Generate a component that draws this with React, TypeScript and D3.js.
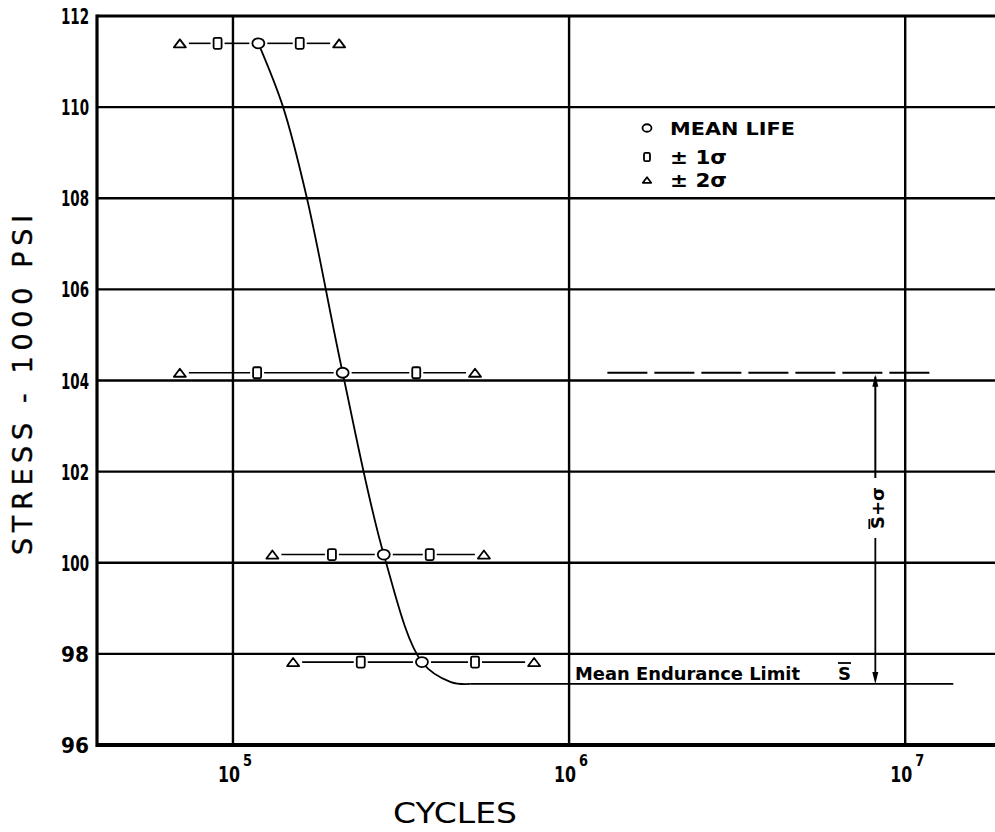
import React from "react";
import * as d3 from "d3";

// ---- data ----
const stressTicks = [96, 98, 100, 102, 104, 106, 108, 110, 112];
const cycleDecades = [5, 6, 7];
const stressLevels = [111.4, 104.17, 100.18, 97.82];
const minus2Sigma = [6.95e4, 6.95e4, 1.31e5, 1.51e5];
const minus1Sigma = [9.0e4, 1.18e5, 1.97e5, 2.4e5];
const meanLife = [1.19e5, 2.12e5, 2.81e5, 3.65e5];
const plus1Sigma = [1.58e5, 3.51e5, 3.85e5, 5.25e5];
const plus2Sigma = [2.07e5, 5.25e5, 5.58e5, 7.87e5];
const curveCycles = [1.19e5, 1.41e5, 1.66e5, 2.12e5, 2.81e5, 3.65e5, 4.45e5, 5.1e5];
const curveStress = [111.4, 110, 108, 104.17, 100.18, 97.82, 97.38, 97.34];
const enduranceLimit = 97.34;
const enduranceEnd = 1.39e7;
const enduranceSigma = 104.17;
const dashedRange = [1.3e6, 1.23e7];
const arrowCycles = 8.15e6;

const W = 995;
const H = 832;
const x = d3.scaleLog().domain([3.94e4, 1.85e7]).range([97, 995]);
const y = d3.scaleLinear().domain([96, 112]).range([745, 16]);

const boldFont = "'DejaVu Sans Condensed', 'Liberation Sans Narrow', 'DejaVu Sans', sans-serif";
const thinFont = "'DejaVu Sans', 'Liberation Sans', sans-serif";

type Kind = "tri" | "sq" | "circ";

function Marker({ kind, cx, cy, s = 1 }: { kind: Kind; cx: number; cy: number; s?: number }) {
  const sw = 1.8;
  if (kind === "circ")
    return <ellipse cx={cx} cy={cy} rx={6 * s} ry={5 * s} fill="#fff" stroke="#000" strokeWidth={sw} />;
  if (kind === "sq")
    return (
      <rect x={cx - 4 * s} y={cy - 5.5 * s} width={8 * s} height={11 * s} rx={1.5} fill="#fff" stroke="#000" strokeWidth={sw} />
    );
  const pts = [
    [cx - 6 * s, cy + 4 * s],
    [cx + 6 * s, cy + 4 * s],
    [cx, cy - 4 * s],
  ]
    .map((p) => p.join(","))
    .join(" ");
  return <polygon points={pts} fill="#fff" stroke="#000" strokeWidth={sw} strokeLinejoin="round" />;
}

const halfW: Record<Kind, number> = { tri: 6, sq: 4, circ: 6 };

export default function App() {
  const curveLine = d3
    .line<number>()
    .x((_, i) => x(curveCycles[i]))
    .y((d) => y(d))
    .curve(d3.curveCatmullRom.alpha(0.5));

  const rows = stressLevels.map((s, i) => {
    const pts: { kind: Kind; v: number }[] = [
      { kind: "tri", v: minus2Sigma[i] },
      { kind: "sq", v: minus1Sigma[i] },
      { kind: "circ", v: meanLife[i] },
      { kind: "sq", v: plus1Sigma[i] },
      { kind: "tri", v: plus2Sigma[i] },
    ];
    const cy = y(s);
    const segs = [];
    for (let k = 0; k < pts.length - 1; k++) {
      const a = pts[k];
      const b = pts[k + 1];
      const x1 = x(a.v) + halfW[a.kind] + 3;
      const x2 = x(b.v) - halfW[b.kind] - 3;
      if (x2 > x1) segs.push(<line key={k} x1={x1} x2={x2} y1={cy} y2={cy} stroke="#000" strokeWidth={1.6} />);
    }
    return (
      <g key={i}>
        {segs}
        {pts.map((p, k) => (
          <Marker key={k} kind={p.kind} cx={x(p.v)} cy={cy} />
        ))}
      </g>
    );
  });

  const ax = x(arrowCycles);
  const yTop = y(enduranceSigma);
  const yBot = y(enduranceLimit);
  const labelCy = 508;
  const lastC = curveCycles[curveCycles.length - 1];

  return (
    <svg width={W} height={H} style={{ position: "absolute", left: 0, top: 0, background: "#fff" }}>
      <rect width={W} height={H} fill="#fff" />
      {/* horizontal grid */}
      {stressTicks.map((t) => (
        <line key={t} x1={x.range()[0]} x2={W} y1={y(t)} y2={y(t)} stroke="#000" strokeWidth={t === 96 ? 4 : t === 112 ? 3.2 : 2.4} />
      ))}
      {/* vertical grid */}
      {cycleDecades.map((d) => (
        <line key={d} x1={x(10 ** d)} x2={x(10 ** d)} y1={y(112)} y2={y(96)} stroke="#000" strokeWidth={2.4} />
      ))}
      <line x1={x.range()[0]} x2={x.range()[0]} y1={y(112) - 1.5} y2={y(96) + 2} stroke="#000" strokeWidth={3.2} />

      {/* y tick labels */}
      {stressTicks.map((t) => (
        <text
          key={t}
          x={89}
          y={y(t) + 8}
          textAnchor="end"
          fontFamily={boldFont}
          fontWeight="bold"
          fontSize={21}
          textLength={28}
          lengthAdjust="spacingAndGlyphs"
        >
          {t}
        </text>
      ))}
      {/* x tick labels */}
      {cycleDecades.map((d) => {
        const cx = x(10 ** d);
        return (
          <g key={d}>
            <text x={cx - 15} y={782} fontFamily={boldFont} fontWeight="bold" fontSize={21} textLength={22} lengthAdjust="spacingAndGlyphs">
              10
            </text>
            <text x={cx + 10} y={766} fontFamily={boldFont} fontWeight="bold" fontSize={15} textLength={9} lengthAdjust="spacingAndGlyphs">
              {d}
            </text>
          </g>
        );
      })}

      {/* axis titles */}
      <text
        transform={`translate(32, 385) rotate(-90)`}
        textAnchor="middle"
        fontFamily={thinFont}
        fontSize={27}
        textLength={340}
        lengthAdjust="spacing"
        stroke="#000"
        strokeWidth={0.4}
      >
        STRESS - 1000 PSI
      </text>
      <text x={455} y={823} textAnchor="middle" fontFamily={thinFont} fontSize={29} textLength={124} lengthAdjust="spacingAndGlyphs">
        CYCLES
      </text>

      {/* S-N curve */}
      <path d={curveLine(curveStress) || ""} fill="none" stroke="#000" strokeWidth={1.8} />
      <line x1={x(lastC)} x2={x(enduranceEnd)} y1={yBot} y2={yBot} stroke="#000" strokeWidth={1.8} />

      {/* rows of markers */}
      {rows}

      {/* dashed S+sigma line */}
      <line
        x1={x(dashedRange[0])}
        x2={x(dashedRange[1])}
        y1={yTop}
        y2={yTop}
        stroke="#000"
        strokeWidth={1.8}
        strokeDasharray="40 7"
      />

      {/* dimension arrow */}
      <line x1={ax} x2={ax} y1={yTop + 4} y2={labelCy - 30} stroke="#000" strokeWidth={2} />
      <line x1={ax} x2={ax} y1={labelCy + 30} y2={yBot - 8} stroke="#000" strokeWidth={1.8} />
      <polygon points={`${ax - 3},${yTop + 14} ${ax + 3},${yTop + 14} ${ax},${yTop + 2}`} fill="#000" />
      <polygon points={`${ax - 3},${yBot - 12} ${ax + 3},${yBot - 12} ${ax},${yBot}`} fill="#000" />
      <g transform={`translate(${ax + 3}, ${labelCy}) rotate(-90)`}>
        <text x={0} y={6} textAnchor="middle" fontFamily={boldFont} fontWeight="bold" fontSize={17} textLength={42} lengthAdjust="spacingAndGlyphs">
          S+σ
        </text>
        <line x1={-21} x2={-11} y1={-9} y2={-9} stroke="#000" strokeWidth={1.8} />
      </g>

      {/* mean endurance label */}
      <text x={575} y={680} fontFamily={boldFont} fontWeight="bold" fontSize={18} textLength={225} lengthAdjust="spacingAndGlyphs">
        Mean Endurance Limit
      </text>
      <text x={838} y={680} fontFamily={boldFont} fontWeight="bold" fontSize={17} textLength={13} lengthAdjust="spacingAndGlyphs">
        S
      </text>
      <line x1={838} x2={851} y1={663} y2={663} stroke="#000" strokeWidth={1.8} />

      {/* legend */}
      <Marker kind="circ" cx={647} cy={128} s={0.75} />
      <text x={670} y={135} fontFamily={boldFont} fontWeight="bold" fontSize={18} textLength={125} lengthAdjust="spacingAndGlyphs">
        MEAN LIFE
      </text>
      <Marker kind="sq" cx={647} cy={157} s={0.75} />
      <text x={670} y={164} fontFamily={boldFont} fontWeight="bold" fontSize={19} textLength={57} lengthAdjust="spacingAndGlyphs">
        ± 1σ
      </text>
      <Marker kind="tri" cx={647} cy={180} s={0.7} />
      <text x={670} y={187} fontFamily={boldFont} fontWeight="bold" fontSize={19} textLength={57} lengthAdjust="spacingAndGlyphs">
        ± 2σ
      </text>
    </svg>
  );
}
